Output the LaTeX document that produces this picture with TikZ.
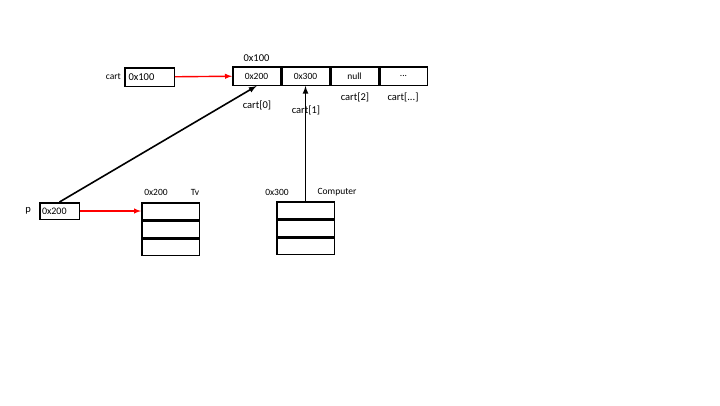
\documentclass[tikz,border=0pt]{standalone}
\usepackage{fontspec}
\setmainfont{Carlito}
\usetikzlibrary{positioning}
\tikzset{
  cell/.style={draw, line width=1.5pt, minimum width=47.5pt, minimum height=18.5pt, inner sep=0pt, font=\fontsize{9.5}{11}\selectfont},
  slot/.style={draw, line width=1.5pt, minimum width=57.5pt, minimum height=16.5pt, inner sep=0pt},
  lbl/.style={font=\fontsize{9.5}{11}\selectfont, inner sep=1pt},
  big/.style={font=\fontsize{10.5}{12}\selectfont},
  ptr/.style={red, line width=1.4pt, -latex},
  ref/.style={line width=1.6pt, -latex}
}
\begin{document}
\begin{tikzpicture}[x=1pt, y=-1pt]
    \useasboundingbox (0,0) rectangle (720,405);
    % 指针 cart
    \node[cell, big, minimum width=49.5pt, text width=42pt, align=left] (cart) at (149.5,77) {0x100};
    \node[lbl, left=2pt of cart] (cartname) {cart};
    % 数组
    \node[cell] (c0) at (256.5,76) {0x200};
    \node[cell, right=0pt of c0] (c1) {0x300};
    \node[cell, right=0pt of c1] (c2) {null};
    \node[cell, right=0pt of c2] (c3) {...};
    \node[lbl, big, above=3pt of c0] (arraddr) {0x100};
    \node[lbl, big] (i0) at (257,105) {cart[0]};
    \node[lbl, big] (i1) at (306,110) {cart[1]};
    \node[lbl, big] (i2) at (355,97) {cart[2]};
    \node[lbl, big] (i3) at (403,97) {cart[...]};
    \draw[ptr] (cart) -- (c0);
    % 指针 p
    \node[cell, minimum width=39.5pt, minimum height=16.5pt, text width=35pt, align=left, font=\fontsize{10}{11}\selectfont] (p) at (59.5,211) {0x200};
    \node[lbl, big, left=7pt of p] (pname) {p};
    % 对象 Tv
    \node[slot] (tv1) at (170.5,211) {};
    \node[slot, below=0pt of tv1] (tv2) {};
    \node[slot, below=0pt of tv2] (tv3) {};
    \node[lbl] (tvaddr) at (156,192) {0x200};
    \node[lbl] (tvname) at (195,192) {Tv};
    % 对象 Computer
    \node[slot] (pc1) at (305.5,210) {};
    \node[slot, below=0pt of pc1] (pc2) {};
    \node[slot, below=0pt of pc2] (pc3) {};
    \node[lbl] (pcaddr) at (277,192) {0x300};
    \node[lbl] (pcname) at (337,192) {Computer};
    % 连线
    \draw[ptr] (p) -- (tv1.west);
    \draw[ref] (p.north) -- (c0.south);
    \draw[ref] (pc1.north) -- (c1.south);
\end{tikzpicture}
\end{document}
